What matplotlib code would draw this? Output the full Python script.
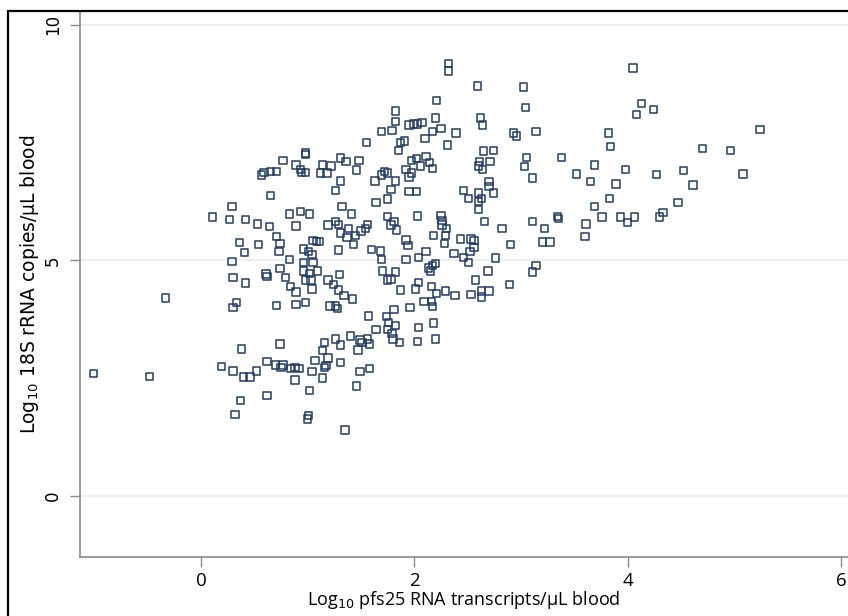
import matplotlib.pyplot as plt
from matplotlib.patches import Rectangle

# log10 pfs25 transcripts/uL (x) and log10 18S rRNA copies/uL (y)
pfs25 = [2.32, 2.32, 4.05, 2.59, 3.02, 2.21, 3.04, 4.13, 4.24, 4.08,
         1.82, 2.20, 2.62, 1.82, 1.95, 1.99, 2.03, 2.07, 2.64, 5.24,
         1.69, 1.79, 2.17, 2.25, 2.39, 2.93, 2.96, 3.14, 3.82, 3.84,
         1.55, 1.87, 1.91, 2.31, 2.10, 4.70, 4.96, 2.65, 2.74, 0.98,
         0.98, 1.85, 3.38, 1.97, 2.02, 2.11, 2.14, 2.17, 2.06, 1.92,
         2.61, 2.71, 3.05, 3.03, 3.69, 3.98, 0.77, 0.89, 0.94, 0.93,
         0.98, 1.14, 1.22, 1.31, 1.36, 1.48, 1.46, 1.12, 1.18, 0.57,
         0.59, 0.65, 0.71, 3.52, 4.27, 4.52, 5.08, 2.60, 2.64, 1.72,
         1.69, 1.75, 1.97, 1.95, 1.82, 1.63, 1.31, 3.11, 3.65, 3.89,
         4.61, 2.70, 2.70, 2.74, 2.46, 2.51, 2.60, 2.63, 2.60, 2.60,
         1.95, 2.02, 1.78, 1.26, 0.65, 1.64, 1.75, 3.83, 4.47, 3.69,
         1.32, 1.41, 0.83, 0.93, 1.02, 0.29, 0.11, 0.27, 0.42, 0.53,
         0.64, 0.89, 1.19, 1.26, 1.29, 1.38, 1.56, 1.50, 1.75, 1.81,
         1.78, 2.03, 2.25, 2.26, 2.26, 2.66, 2.82, 3.11, 3.22, 3.34,
         3.35, 3.61, 3.60, 3.76, 3.93, 4.00, 4.06, 4.30, 4.33, 0.36,
         0.54, 0.71, 0.74, 0.41, 0.73, 0.83, 0.29, 1.05, 1.08, 1.11,
         1.31, 1.37, 1.43, 1.45, 1.54, 1.83, 1.60, 1.68, 1.92, 1.94,
         2.18, 2.30, 2.29, 2.28, 2.43, 2.53, 2.56, 2.56, 2.52, 2.37,
         2.46, 2.51, 2.76, 2.90, 3.20, 3.27, 0.96, 1.01, 1.04, 1.29,
         1.69, 1.92, 2.04, 2.11, 2.17, 2.20, 2.15, 2.13, 1.70, 1.75,
         1.82, 1.78, 1.87, 2.01, 2.04, 2.16, 2.21, 2.09, 2.16, 2.17,
         2.29, 2.38, 2.53, 2.57, 2.63, 2.63, 2.70, 2.69, 2.89, 3.11,
         3.14, 0.96, 0.96, 1.02, 1.09, 1.05, 1.03, 1.04, 0.98, 0.74,
         0.79, 0.84, 0.89, 0.89, 0.98, 0.71, 0.61, 0.62, 0.30, 0.42,
         0.33, 0.30, 1.19, 1.30, 1.24, 1.29, 1.34, 1.42, 1.26, 1.21,
         1.28, 1.57, 1.74, 1.76, 1.75, 1.82, 1.79, 1.81, 1.64, 1.96,
         2.04, 2.18, 2.20, 2.03, 1.86, 1.80, 0.74, 0.38, 1.16, 1.26,
         1.31, 1.40, 1.49, 1.51, 1.56, 1.58, 1.47, 1.14, 1.19, 1.07,
         1.17, 1.31, 0.19, 0.30, 0.40, 0.46, 0.52, 0.62, 0.70, 0.75,
         0.77, 0.84, 0.88, 0.92, 1.04, 1.14, 1.16, 1.49, 1.58, 0.88,
         1.02, 1.46, 0.62, 0.37, 0.32, 1.01, 1.00, 1.35, -1.01, -0.48,
         -0.33]
rrna18s = [9.18, 9.02, 9.08, 8.70, 8.68, 8.39, 8.25, 8.33, 8.20, 8.10,
           8.17, 8.02, 8.02, 7.95, 7.87, 7.89, 7.89, 7.92, 7.87, 7.78,
           7.73, 7.75, 7.73, 7.80, 7.70, 7.70, 7.64, 7.73, 7.70, 7.42,
           7.50, 7.50, 7.53, 7.45, 7.58, 7.37, 7.33, 7.32, 7.33, 7.28,
           7.25, 7.33, 7.18, 7.12, 7.16, 7.20, 7.08, 6.95, 7.00, 6.93,
           7.10, 7.10, 7.18, 6.99, 7.02, 6.93, 7.12, 7.02, 6.87, 6.93,
           6.87, 7.02, 7.00, 7.17, 7.10, 7.12, 6.92, 6.85, 6.85, 6.81,
           6.87, 6.89, 6.89, 6.83, 6.82, 6.90, 6.83, 7.00, 6.93, 6.88,
           6.81, 6.85, 6.85, 6.77, 6.68, 6.68, 6.68, 6.75, 6.67, 6.62,
           6.60, 6.67, 6.56, 6.43, 6.48, 6.31, 6.43, 6.31, 6.25, 6.08,
           6.46, 6.46, 6.50, 6.48, 6.38, 6.23, 6.30, 6.31, 6.23, 6.14,
           6.14, 5.98, 5.98, 6.04, 5.98, 6.14, 5.92, 5.87, 5.87, 5.77,
           5.72, 5.73, 5.75, 5.83, 5.76, 5.67, 5.76, 5.62, 5.93, 5.83,
           5.75, 5.94, 5.95, 5.85, 5.75, 5.83, 5.68, 5.83, 5.67, 5.93,
           5.89, 5.77, 5.50, 5.92, 5.92, 5.80, 5.92, 5.92, 6.02, 5.38,
           5.33, 5.50, 5.35, 5.17, 5.18, 5.02, 4.98, 5.42, 5.40, 5.40,
           5.58, 5.48, 5.33, 5.52, 5.68, 5.64, 5.23, 5.20, 5.43, 5.32,
           5.52, 5.68, 5.52, 5.35, 5.45, 5.45, 5.42, 5.27, 5.18, 5.14,
           5.06, 4.95, 5.05, 5.33, 5.39, 5.39, 5.24, 5.18, 5.13, 5.22,
           5.02, 5.02, 5.06, 5.18, 4.89, 4.93, 4.77, 4.84, 4.77, 4.58,
           4.75, 4.60, 4.37, 4.39, 4.53, 4.45, 4.30, 4.13, 4.13, 4.02,
           4.35, 4.25, 4.27, 4.58, 4.35, 4.22, 4.35, 4.77, 4.48, 4.75,
           4.89, 4.95, 4.77, 4.72, 4.77, 4.95, 4.58, 4.39, 4.58, 4.83,
           4.63, 4.45, 4.33, 4.06, 4.10, 4.04, 4.71, 4.65, 4.63, 4.52,
           4.10, 4.00, 4.58, 4.70, 4.49, 4.37, 4.25, 4.18, 4.03, 4.03,
           3.98, 3.82, 3.81, 3.68, 3.53, 3.62, 3.45, 3.95, 3.53, 4.00,
           3.58, 3.67, 3.33, 3.28, 3.26, 3.33, 3.22, 3.12, 3.25, 3.33,
           3.20, 3.39, 3.31, 3.25, 3.33, 3.22, 3.10, 3.08, 2.93, 2.88,
           2.77, 2.83, 2.75, 2.65, 2.52, 2.52, 2.65, 2.85, 2.78, 2.73,
           2.78, 2.70, 2.73, 2.70, 2.64, 2.50, 2.73, 2.64, 2.70, 2.46,
           2.23, 2.33, 2.13, 2.03, 1.73, 1.70, 1.63, 1.40, 2.60, 2.53,
           4.20]

x_ticks = [0, 2, 4, 6]
y_ticks = [0, 5, 10]

navy = '#233c62'
axis_grey = '#8a8a8a'

fig = plt.figure(figsize=(8.48, 6.16), dpi=100)
ax = fig.add_axes([80 / 848, 1 - 557 / 616, 1 - 80 / 848, (557 - 12) / 616])

ax.scatter(pfs25, rrna18s, marker='s', s=28, facecolors='none',
           edgecolors=navy, linewidths=1.1, zorder=3)

ax.set_xlim(-1.134, 6.064)
ax.set_ylim(-1.297, 10.27)
ax.set_xticks(x_ticks)
ax.set_yticks(y_ticks)
ax.set_yticklabels([str(v) for v in y_ticks], rotation=90, va='center',
                   fontsize=12, family='DejaVu Sans')
ax.set_xticklabels([str(v) for v in x_ticks], fontsize=13.5,
                   family='Open Sans')
ax.grid(axis='y', color='#efefef', linewidth=1.5, zorder=0)

for side in ['top', 'right']:
    ax.spines[side].set_visible(False)
for side in ['left', 'bottom']:
    ax.spines[side].set_color(axis_grey)
    ax.spines[side].set_linewidth(1.2)
ax.tick_params(axis='both', color=axis_grey, length=7, width=1.0)
ax.tick_params(axis='x', pad=4)
ax.tick_params(axis='y', pad=6)

ax.set_xlabel(r'Log$_{10}$ pfs25 RNA transcripts/µL blood', fontsize=13,
              family='Open Sans', va='center')
ax.xaxis.set_label_coords(0.5, -0.079)
ax.set_ylabel(r'Log$_{10}$ 18S rRNA copies/µL blood', fontsize=13.5,
              family='DejaVu Sans', va='center')
ax.yaxis.set_label_coords(-50 / 768, 0.5)

# black frame of the screenshot, left and top edges
fig.add_artist(Rectangle((8 / 848, -0.1), 1.2, 1.1 - 11 / 616,
                         transform=fig.transFigure, fill=False,
                         edgecolor='black', linewidth=1.6, zorder=10))

fig.savefig('out.png', dpi=100)
